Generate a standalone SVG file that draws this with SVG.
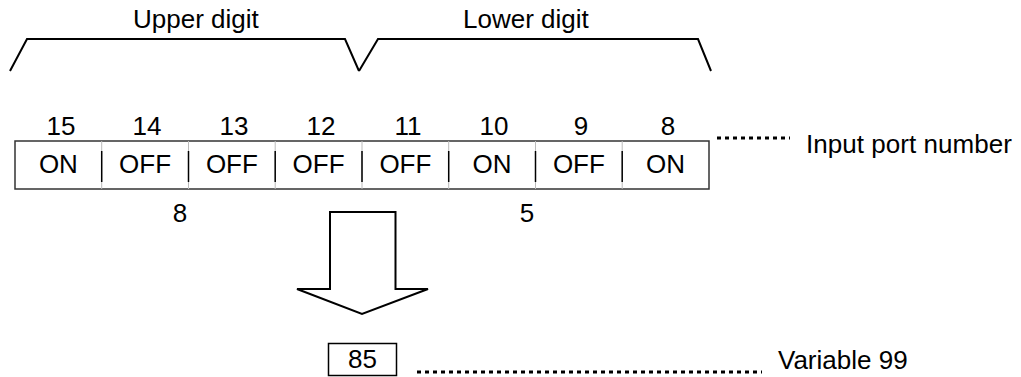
<svg xmlns="http://www.w3.org/2000/svg" width="1021" height="377" viewBox="0 0 1021 377">
<style>
text{font-family:"Liberation Sans",Arial,sans-serif;font-size:26px;fill:#000}
.c{text-anchor:middle}
.ln{fill:none;stroke:#000;stroke-width:2}
.dot{fill:none;stroke:#000;stroke-width:3;stroke-dasharray:4 4}
.dv{stroke:#000;stroke-width:1.5}
.dvl{stroke:#bbb;stroke-width:1}
</style>
<rect width="1021" height="377" fill="#fff"/>
<g id="upper-digit">
<polyline class="ln" points="10,71 27,39 345,39 359,71"/>
<text x="133" y="28">Upper digit</text>
</g>
<g id="lower-digit">
<polyline class="ln" points="359,71 378,39 698,39 711,71"/>
<text x="463" y="28">Lower digit</text>
</g>
<g id="port-numbers">
<text class="c" x="61" y="135">15</text>
<text class="c" x="147" y="135">14</text>
<text class="c" x="234" y="135">13</text>
<text class="c" x="321" y="135">12</text>
<text class="c" x="408" y="135">11</text>
<text class="c" x="494" y="135">10</text>
<text class="c" x="581" y="135">9</text>
<text class="c" x="668" y="135">8</text>
</g>
<g id="table">
<rect x="15" y="141" width="694" height="48" fill="#fff" stroke="#333" stroke-width="1.5"/>
<g>
<line class="dvl" x1="101.7" y1="141" x2="101.7" y2="189"/>
<line class="dvl" x1="188.5" y1="141" x2="188.5" y2="189"/>
<line class="dvl" x1="275.2" y1="141" x2="275.2" y2="189"/>
<line class="dvl" x1="362" y1="141" x2="362" y2="189"/>
<line class="dvl" x1="448.7" y1="141" x2="448.7" y2="189"/>
<line class="dvl" x1="535.5" y1="141" x2="535.5" y2="189"/>
<line class="dvl" x1="622.2" y1="141" x2="622.2" y2="189"/>
<line class="dv" x1="101.7" y1="151" x2="101.7" y2="182"/>
<line class="dv" x1="188.5" y1="151" x2="188.5" y2="182"/>
<line class="dv" x1="275.2" y1="151" x2="275.2" y2="182"/>
<line class="dv" x1="362" y1="151" x2="362" y2="182"/>
<line class="dv" x1="448.7" y1="151" x2="448.7" y2="182"/>
<line class="dv" x1="535.5" y1="151" x2="535.5" y2="182"/>
<line class="dv" x1="622.2" y1="151" x2="622.2" y2="182"/>
</g>
<text class="c" x="58.4" y="173">ON</text>
<text class="c" x="145.1" y="173">OFF</text>
<text class="c" x="231.9" y="173">OFF</text>
<text class="c" x="318.6" y="173">OFF</text>
<text class="c" x="405.4" y="173">OFF</text>
<text class="c" x="492.1" y="173">ON</text>
<text class="c" x="578.9" y="173">OFF</text>
<text class="c" x="665.6" y="173">ON</text>
</g>
<g id="digit-values">
<text class="c" x="180" y="222">8</text>
<text class="c" x="527" y="222">5</text>
</g>
<g id="connectors">
<line class="dot" x1="717" y1="138" x2="790" y2="138"/>
<line class="dot" x1="417" y1="372" x2="762" y2="372"/>
<polygon class="ln" points="330,212 395.5,212 395.5,289 428,289 362,314 297,289 330,289"/>
</g>
<g id="input-port-label">
<text x="806" y="153" textLength="206">Input port number</text>
</g>
<g id="result">
<rect x="328.5" y="343.5" width="68" height="32" fill="#fff" stroke="#000" stroke-width="1.5"/>
<text class="c" x="362.5" y="368">85</text>
</g>
<g id="variable-label">
<text x="778" y="369">Variable 99</text>
</g>
</svg>
